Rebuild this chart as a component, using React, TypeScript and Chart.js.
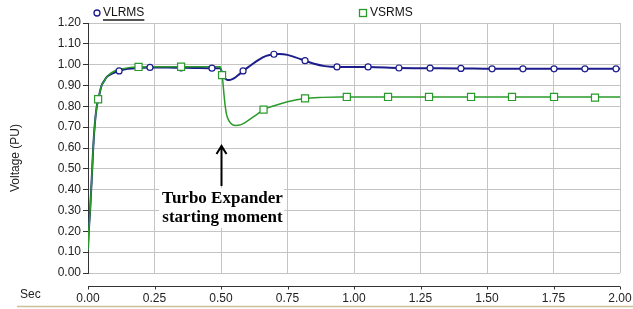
import React, { useEffect, useRef } from "react";
import { Chart, registerables } from "chart.js";

Chart.register(...registerables);

// ---- Data ----
const vsT = [0, 0.002, 0.0075, 0.014, 0.02, 0.026, 0.033, 0.039, 0.045, 0.051, 0.06, 0.07, 0.08, 0.095, 0.11, 0.13, 0.158, 0.19, 0.25, 0.3, 0.4, 0.497, 0.502, 0.506, 0.511, 0.516, 0.521, 0.53, 0.54, 0.556, 0.575, 0.6, 0.63, 0.66, 0.7, 0.75, 0.816, 0.88, 0.95, 1.05, 1.2, 1.4, 1.6, 1.8, 2.0];
const vsV = [0.11, 0.18, 0.29, 0.45, 0.61, 0.72, 0.8, 0.834, 0.87, 0.9, 0.92, 0.94, 0.953, 0.966, 0.974, 0.98, 0.987, 0.989, 0.99, 0.99, 0.99, 0.99, 0.965, 0.93, 0.86, 0.8, 0.76, 0.73, 0.715, 0.708, 0.712, 0.73, 0.757, 0.784, 0.803, 0.822, 0.838, 0.843, 0.845, 0.845, 0.845, 0.845, 0.845, 0.845, 0.845];

const vlT = [0, 0.002, 0.0075, 0.014, 0.02, 0.026, 0.033, 0.039, 0.045, 0.051, 0.06, 0.07, 0.08, 0.095, 0.117, 0.15, 0.2, 0.233, 0.3, 0.35, 0.4, 0.466, 0.497, 0.505, 0.512, 0.519, 0.526, 0.535, 0.55, 0.565, 0.583, 0.61, 0.64, 0.67, 0.7, 0.72, 0.75, 0.78, 0.816, 0.85, 0.89, 0.936, 1.0, 1.053, 1.169, 1.286, 1.402, 1.519, 1.635, 1.752, 1.868, 2.0];
const vlV = [0.11, 0.18, 0.29, 0.45, 0.61, 0.72, 0.8, 0.834, 0.87, 0.9, 0.92, 0.94, 0.95, 0.96, 0.97, 0.98, 0.985, 0.987, 0.986, 0.985, 0.984, 0.983, 0.983, 0.96, 0.94, 0.93, 0.926, 0.927, 0.935, 0.95, 0.97, 0.995, 1.022, 1.042, 1.05, 1.051, 1.047, 1.035, 1.019, 1.004, 0.993, 0.989, 0.989, 0.989, 0.984, 0.983, 0.982, 0.98, 0.98, 0.98, 0.98, 0.98];

const vlMarkT = [0.117, 0.233, 0.35, 0.466, 0.583, 0.699, 0.816, 0.936, 1.053, 1.169, 1.286, 1.402, 1.519, 1.635, 1.752, 1.868, 1.985];
const vlMarkV = [0.97, 0.987, 0.985, 0.983, 0.97, 1.05, 1.019, 0.989, 0.989, 0.984, 0.983, 0.982, 0.98, 0.98, 0.98, 0.98, 0.98];

const vsMarkT = [0.038, 0.19, 0.35, 0.504, 0.66, 0.816, 0.973, 1.128, 1.282, 1.44, 1.594, 1.752, 1.906];
const vsMarkV = [0.834, 0.989, 0.99, 0.95, 0.784, 0.838, 0.845, 0.845, 0.845, 0.845, 0.845, 0.845, 0.842];

const seriesNames = ["VLRMS", "VSRMS"];
const yTitle = "Voltage (PU)";
const xUnit = "Sec";
const annotationLines = ["Turbo Expander", "starting moment"];
const annotationT = 0.5;

const BLUE = "#1c1c8c";
const GREEN = "#2a9a2a";

const zip = (t: number[], v: number[]) => t.map((x, i) => ({ x, y: v[i] }));

const overlay = {
  id: "overlay",
  afterDraw(chart: any) {
    const ctx = chart.ctx as CanvasRenderingContext2D;
    const xs = chart.scales.x;
    const area = chart.chartArea;
    ctx.save();

    // Legend
    ctx.font = "12px 'Liberation Sans', Arial, sans-serif";
    ctx.textBaseline = "middle";
    ctx.fillStyle = "#111";
    ctx.strokeStyle = BLUE;
    ctx.lineWidth = 1.3;
    ctx.beginPath();
    ctx.arc(97, 13, 3, 0, Math.PI * 2);
    ctx.stroke();
    ctx.fillText(seriesNames[0], 103, 13);
    const w0 = ctx.measureText(seriesNames[0]).width;
    ctx.fillStyle = "#555";
    ctx.fillRect(103, 19, w0, 2);
    ctx.strokeStyle = GREEN;
    ctx.strokeRect(359.5, 9.5, 7, 7);
    ctx.fillStyle = "#111";
    ctx.fillText(seriesNames[1], 370, 13);

    // Y title
    ctx.save();
    ctx.translate(16, 158);
    ctx.rotate(-Math.PI / 2);
    ctx.textAlign = "center";
    ctx.fillStyle = "#222";
    ctx.fillText(yTitle, 0, 0);
    ctx.restore();

    // Sec
    ctx.fillStyle = "#222";
    ctx.textAlign = "left";
    ctx.fillText(xUnit, 20, 295);

    // Separate x axis line with downward ticks
    const axY = 286.5;
    ctx.strokeStyle = "#333";
    ctx.lineWidth = 1;
    ctx.beginPath();
    ctx.moveTo(area.left, axY);
    ctx.lineTo(area.right, axY);
    xs.ticks.forEach((tk: any) => {
      const px = Math.round(xs.getPixelForValue(tk.value)) + 0.5;
      ctx.moveTo(px, axY);
      ctx.lineTo(px, axY + 3);
    });
    ctx.stroke();

    // Bottom tan line
    ctx.strokeStyle = "#cdbf97";
    ctx.lineWidth = 1.5;
    ctx.beginPath();
    ctx.moveTo(17, 306.5);
    ctx.lineTo(633, 306.5);
    ctx.stroke();

    // Annotation
    const ax = Math.round(xs.getPixelForValue(annotationT)) + 0.5;
    ctx.font = "bold 17px 'Liberation Serif', 'Times New Roman', serif";
    ctx.textAlign = "center";
    const tw = Math.max(...annotationLines.map((l) => ctx.measureText(l).width));
    ctx.fillStyle = "#fff";
    ctx.fillRect(ax - tw / 2 - 2, 188, tw + 4, 40);
    ctx.fillStyle = "#000";
    ctx.fillText(annotationLines[0], ax + 1, 199);
    ctx.fillText(annotationLines[1], ax + 1, 218);
    ctx.strokeStyle = "#000";
    ctx.lineWidth = 2;
    ctx.beginPath();
    ctx.moveTo(ax, 146);
    ctx.lineTo(ax, 186);
    ctx.moveTo(ax - 5, 154);
    ctx.lineTo(ax, 146);
    ctx.lineTo(ax + 5, 154);
    ctx.stroke();

    ctx.restore();
  },
};

export default function App() {
  const ref = useRef<HTMLCanvasElement | null>(null);
  useEffect(() => {
    document.body.style.margin = "0";
    const canvas = ref.current!;
    const chart = new Chart(canvas, {
      type: "line",
      data: {
        datasets: [
          {
            label: seriesNames[1] + " markers",
            data: zip(vsMarkT, vsMarkV),
            showLine: false,
            pointStyle: "rect",
            pointRadius: 5,
            borderColor: GREEN,
            backgroundColor: "#fff",
            borderWidth: 1.2,
            order: 0,
          },
          {
            label: seriesNames[0] + " markers",
            data: zip(vlMarkT, vlMarkV),
            showLine: false,
            pointStyle: "circle",
            pointRadius: 3,
            borderColor: BLUE,
            backgroundColor: "#fff",
            borderWidth: 1.2,
            order: 1,
          },
          {
            label: seriesNames[1],
            data: zip(vsT, vsV),
            borderColor: GREEN,
            borderWidth: 1.5,
            pointRadius: 0,
            cubicInterpolationMode: "monotone",
            fill: false,
            order: 2,
          },
          {
            label: seriesNames[0],
            data: zip(vlT, vlV),
            borderColor: BLUE,
            borderWidth: 2,
            pointRadius: 0,
            cubicInterpolationMode: "monotone",
            fill: false,
            order: 3,
          },
        ],
      },
      options: {
        animation: false,
        responsive: false,
        devicePixelRatio: 1,
        layout: { padding: { top: 23, right: 13, left: 0, bottom: 0 } },
        plugins: { legend: { display: false }, tooltip: { enabled: false } },
        scales: {
          x: {
            type: "linear",
            min: 0,
            max: 2,
            afterFit: (s: any) => {
              s.height = 36;
            },
            ticks: {
              stepSize: 0.25,
              padding: 0,
              color: "#222",
              font: { family: "'Liberation Sans', Arial, sans-serif", size: 12 },
              callback: (v: any) => Number(v).toFixed(2),
              maxRotation: 0,
              autoSkip: false,
            },
            grid: { color: "#c4c4c4", drawTicks: true, tickLength: 18, tickColor: "rgba(0,0,0,0)", lineWidth: 1 },
            border: { display: false },
          },
          y: {
            min: 0,
            max: 1.2,
            afterFit: (s: any) => {
              s.width = 88;
            },
            ticks: {
              stepSize: 0.1,
              padding: 2,
              color: "#222",
              font: { family: "'Liberation Sans', Arial, sans-serif", size: 12 },
              callback: (v: any) => Number(v).toFixed(2),
            },
            grid: { color: "#c4c4c4", tickColor: "#333", tickLength: 5, lineWidth: 1 },
            border: { display: true, color: "#333", width: 1 },
          },
        },
      },
      plugins: [overlay],
    } as any);
    return () => chart.destroy();
  }, []);
  return (
    <div style={{ width: 633, height: 309, background: "#fff" }}>
      <canvas ref={ref} width={633} height={309} style={{ width: 633, height: 309, display: "block" }} />
    </div>
  );
}
